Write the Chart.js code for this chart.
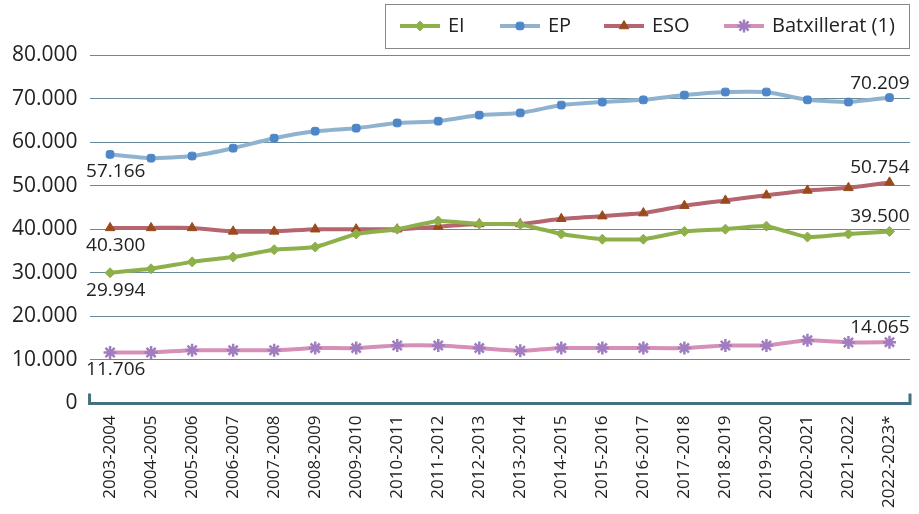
<!DOCTYPE html>
<html><head><meta charset="utf-8">
<script src="https://cdn.jsdelivr.net/npm/chart.js@4"></script>
<style>body{margin:0;background:#fff}#wrap{width:919px;height:514px}</style>
</head><body><div id="wrap"><canvas id="c"></canvas></div>
<script>
const years = ['2003-2004','2004-2005','2005-2006','2006-2007','2007-2008','2008-2009','2009-2010','2010-2011','2011-2012','2012-2013','2013-2014','2014-2015','2015-2016','2016-2017','2017-2018','2018-2019','2019-2020','2020-2021','2021-2022','2022-2023*'];
const ei = [29994,30900,32500,33600,35300,35900,38900,40000,41900,41200,41100,38900,37700,37700,39500,40000,40700,38200,38900,39500];
const ep = [57166,56300,56800,58600,60900,62500,63200,64400,64800,66200,66700,68500,69200,69700,70800,71500,71500,69700,69200,70209];
const eso = [40300,40300,40300,39500,39500,40000,40000,40000,40600,41200,41200,42400,43000,43700,45400,46600,47800,48900,49500,50754];
const batx = [11706,11700,12200,12200,12200,12700,12700,13300,13300,12700,12100,12700,12700,12700,12700,13300,13300,14500,14000,14065];

const fmt = v => v.toLocaleString('de-DE');

// first/last value labels
const endLabels = {
  id: 'endLabels',
  afterDatasetsDraw(chart) {
    const c = chart.ctx;
    c.save();
    c.font = '19px "Open Sans", sans-serif';
    c.fillStyle = '#222';
    chart.data.datasets.forEach((ds, i) => {
      const pts = chart.getDatasetMeta(i).data;
      const a = pts[0], b = pts[pts.length - 1];
      c.textAlign = 'left'; c.textBaseline = 'top';
      c.fillText(fmt(ds.data[0]), a.x - 24, a.y + 8);
      c.textAlign = 'right'; c.textBaseline = 'bottom';
      c.fillText(fmt(ds.data[ds.data.length - 1]), b.x + 20, b.y - 5);
    });
    c.restore();
  }
};
// bottom axis with raised ends
const baseAxis = {
  id: 'baseAxis',
  afterDraw(chart) {
    const c = chart.ctx, a = chart.chartArea, y = chart.scales.y.getPixelForValue(0);
    c.save();
    c.strokeStyle = '#45707f'; c.lineWidth = 3;
    c.beginPath();
    c.moveTo(a.left, y - 10); c.lineTo(a.left, y); c.lineTo(a.right, y); c.lineTo(a.right, y - 10);
    c.stroke();
    c.restore();
  }
};

const mk = (label, data, line, pt, style, r) => ({
  label, data, borderColor: line, backgroundColor: pt, pointBackgroundColor: pt, pointBorderColor: pt,
  borderWidth: 4, pointStyle: style, pointRadius: r, pointBorderWidth: style === 'star' ? 2.5 : 1, tension: 0.15
});

new Chart(document.getElementById('c'), {
  type: 'line',
  data: {
    labels: years,
    datasets: [
      mk('EI', ei, '#8db04a', '#8db04a', 'rectRot', 5),
      mk('EP', ep, '#8fb3cf', '#4e86c8', 'rectRounded', 4.5),
      mk('ESO', eso, '#b4656f', '#9a4a1c', 'triangle', 5.5),
      mk('Batxillerat (1)', batx, '#d68fb6', '#a07cc0', 'star', 6.5)
    ]
  },
  options: {
    responsive: true, maintainAspectRatio: false, animation: false,
    layout: { padding: { left: 0, right: 8, top: 55, bottom: 2 } },
    plugins: {
      legend: { display: false },
      tooltip: { enabled: false }
    },
    scales: {
      x: {
        offset: true,
        grid: { display: false },
        border: { display: false },
        ticks: { maxRotation: 90, minRotation: 90, color: '#222', padding: 4, font: { size: 17, family: '"Open Sans", sans-serif' } }
      },
      y: {
        min: 0, max: 80000,
        ticks: { stepSize: 10000, callback: v => fmt(v), color: '#222', padding: 12, font: { size: 21, family: '"Open Sans", sans-serif' } },
        grid: { color: '#6a8a98', lineWidth: 1, drawTicks: false },
        border: { display: false }
      }
    }
  },
  plugins: [endLabels, baseAxis, {
    id: 'legendBox',
    afterDraw(chart) {
      const c = chart.ctx;
      c.save();
      c.strokeStyle = '#888'; c.lineWidth = 1;
      c.strokeRect(385.5, 4.5, 524, 44);
      const items = [['EI', 400], ['EP', 500], ['ESO', 604], ['Batxillerat (1)', 724]];
      c.font = '20px "Open Sans", sans-serif'; c.textBaseline = 'middle';
      items.forEach(([t, x], i) => {
        const ds = chart.data.datasets[i];
        c.strokeStyle = ds.borderColor; c.lineWidth = 4;
        c.beginPath(); c.moveTo(x, 26); c.lineTo(x + 40, 26); c.stroke();
        c.fillStyle = ds.pointBackgroundColor; c.strokeStyle = ds.pointBorderColor; c.lineWidth = ds.pointBorderWidth;
        Chart.helpers.drawPoint(c, { pointStyle: ds.pointStyle, radius: ds.pointRadius, borderWidth: ds.pointBorderWidth }, x + 20, 26);
        c.fillStyle = '#222';
        c.fillText(t, x + 48, 26);
      });
      c.restore();
    }
  }]
});
</script></body></html>
